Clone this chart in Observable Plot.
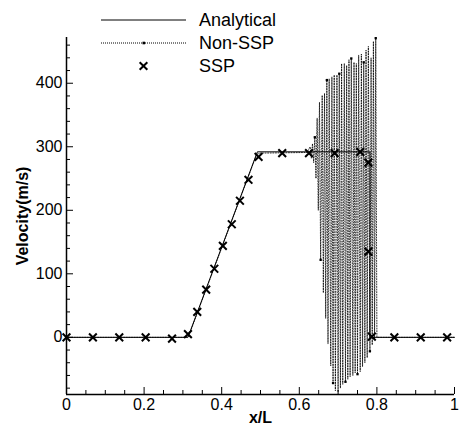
<!DOCTYPE html>
<html>
<head>
<meta charset="utf-8">
<script src="https://cdn.jsdelivr.net/npm/d3@7"></script>
<script src="https://cdn.jsdelivr.net/npm/@observablehq/plot@0.6"></script>
<style>
  html, body { margin: 0; padding: 0; background: white; }
  #wrap { position: relative; width: 459px; height: 430px; }
  #legend { position: absolute; left: 0; top: 0; }
</style>
</head>
<body>
<div id="wrap"><div id="chart"></div><svg id="legend" width="300" height="75"></svg></div>
<script>
// ---- data ----
const seriesNames = ["Analytical", "Non-SSP", "SSP"];

const analyticX = [0, 0.313, 0.492, 0.782, 0.782, 1];
const analyticV = [0, 0, 292, 292, 0, 0];

const sspX = [0, 0.068, 0.136, 0.204, 0.272, 0.313, 0.337, 0.36, 0.381, 0.403, 0.426, 0.447, 0.469, 0.495, 0.556, 0.625, 0.691, 0.757, 0.778, 0.778, 0.787, 0.845, 0.913, 0.981];
const sspV = [0, 0, 0, 0, -2, 5, 40, 75, 108, 144, 178, 215, 248, 284, 290, 290, 290, 292, 275, 135, 1, 0, 0, 0];

const nonSspX = [0, 0.305, 0.315, 0.49, 0.50, 0.62,
  0.628, 0.631, 0.634, 0.637, 0.640, 0.643,
  0.646, 0.649, 0.652, 0.655, 0.659, 0.662, 0.665, 0.668, 0.671, 0.674,
  0.677, 0.681, 0.684, 0.687, 0.690, 0.693, 0.697, 0.700, 0.703, 0.706,
  0.709, 0.712, 0.716, 0.719, 0.722, 0.725, 0.728, 0.731, 0.734, 0.738,
  0.741, 0.744, 0.747, 0.750, 0.753, 0.757, 0.760, 0.763, 0.766, 0.769,
  0.772, 0.775, 0.778, 0.782, 0.785, 0.788, 0.791, 0.794, 0.797, 0.800,
  0.81, 1];
const nonSspV = [0, 0, 2, 288, 290, 291,
  300, 282, 305, 275, 315, 250,
  345, 200, 370, 122, 381, 70, 384, 30, 405, -10,
  407, -45, 410, -72, 413, -84, 413, -86, 415, -80,
  431, -74, 431, -70, 428, -66, 437, -62, 439, -60,
  433, -56, 431, -58, 444, -54, 446, -46, 433, -40,
  452, -32, 458, -22, 440, -12, 466, -2, 471, 0,
  0, 0];

const xTicks = [0, 0.2, 0.4, 0.6, 0.8, 1];
const xMinor = [0.05, 0.1, 0.15, 0.25, 0.3, 0.35, 0.45, 0.5, 0.55, 0.65, 0.7, 0.75, 0.85, 0.9, 0.95];
const yTicks = [0, 100, 200, 300, 400];
const yMinor = [-80, -60, -40, -20, 20, 40, 60, 80, 120, 140, 160, 180, 220, 240, 260, 280, 320, 340, 360, 380, 420, 440, 460];
const xLabel = "x/L";
const yLabel = "Velocity(m/s)";

// ---- tables ----
const analytic = analyticX.map((x, i) => ({x, v: analyticV[i]}));
const ssp = sspX.map((x, i) => ({x, v: sspV[i]}));
const nonSsp = nonSspX.map((x, i) => ({x, v: nonSspV[i]}));
const nonSspMarks = nonSsp.filter((d, i) => i >= 6 && i < 62 && i % 5 === 0);

const font = "'Liberation Sans', Arial, Helvetica, sans-serif";

const chart = Plot.plot({
  width: 459,
  height: 430,
  marginLeft: 66,
  marginRight: 5,
  marginTop: 37,
  marginBottom: 36,
  x: {domain: [0, 1]},
  y: {domain: [-90, 472]},
  style: {fontFamily: font, fontSize: "16px", color: "black", background: "white", overflow: "visible"},
  marks: [
    Plot.line(nonSsp, {x: "x", y: "v", stroke: "black", strokeWidth: 0.8, strokeDasharray: "1,1.6", clip: true}),
    Plot.dot(nonSspMarks, {x: "x", y: "v", symbol: "square", r: 1.3, fill: "black", stroke: null, clip: true}),
    Plot.line(analytic, {x: "x", y: "v", stroke: "black", strokeWidth: 1}),
    Plot.dot(ssp, {x: "x", y: "v", symbol: "times", r: 3.6, stroke: "black", strokeWidth: 2}),
    Plot.ruleX([0], {stroke: "black", strokeWidth: 1.5}),
    Plot.ruleY([-90], {stroke: "black", strokeWidth: 1.5}),
    // inward ticks
    Plot.axisX({ticks: xTicks, tickSize: 7, dy: -7, tickFormat: () => "", label: null}),
    Plot.axisX({ticks: xMinor, tickSize: 4, dy: -4, tickFormat: () => "", label: null}),
    Plot.axisY({ticks: yTicks, tickSize: 7, dx: 7, tickFormat: () => "", label: null}),
    Plot.axisY({ticks: yMinor, tickSize: 4, dx: 4, tickFormat: () => "", label: null}),
    // labels
    Plot.axisX({ticks: xTicks, tickSize: 0, tickPadding: 4, tickFormat: d => String(d), fontSize: 16,
      label: xLabel, labelAnchor: "center", labelArrow: "none", labelOffset: 28}),
    Plot.axisY({ticks: yTicks, tickSize: 0, tickPadding: 4, tickFormat: d => String(d), fontSize: 16,
      label: yLabel, labelAnchor: "center", labelArrow: "none", labelOffset: 50})
  ]
});
document.getElementById("chart").appendChild(chart);
d3.select(chart).selectAll('g[aria-label="x-axis label"] text, g[aria-label="y-axis label"] text')
  .style("font-weight", "bold").style("font-size", "16px");

// ---- legend ----
const lg = d3.select("#legend").style("font-family", font);
const rows = [20, 43, 66];
lg.append("line").attr("x1", 101).attr("x2", 186).attr("y1", rows[0]).attr("y2", rows[0])
  .attr("stroke", "black").attr("stroke-width", 1);
lg.append("line").attr("x1", 101).attr("x2", 186).attr("y1", rows[1]).attr("y2", rows[1])
  .attr("stroke", "black").attr("stroke-width", 1).attr("stroke-dasharray", "1,1");
lg.append("rect").attr("x", 142.5).attr("y", rows[1] - 1.3).attr("width", 2.6).attr("height", 2.6).attr("fill", "black");
lg.append("path").attr("d", d3.symbol(d3.symbolTimes, 40)()).attr("transform", `translate(143.5,${rows[2]})`)
  .attr("stroke", "black").attr("stroke-width", 2).attr("fill", "none");
lg.selectAll("text.lab").data(seriesNames).join("text").attr("class", "lab")
  .attr("x", 199).attr("y", (d, i) => rows[i] + 6).attr("font-size", 18).text(d => d);
</script>
</body>
</html>
